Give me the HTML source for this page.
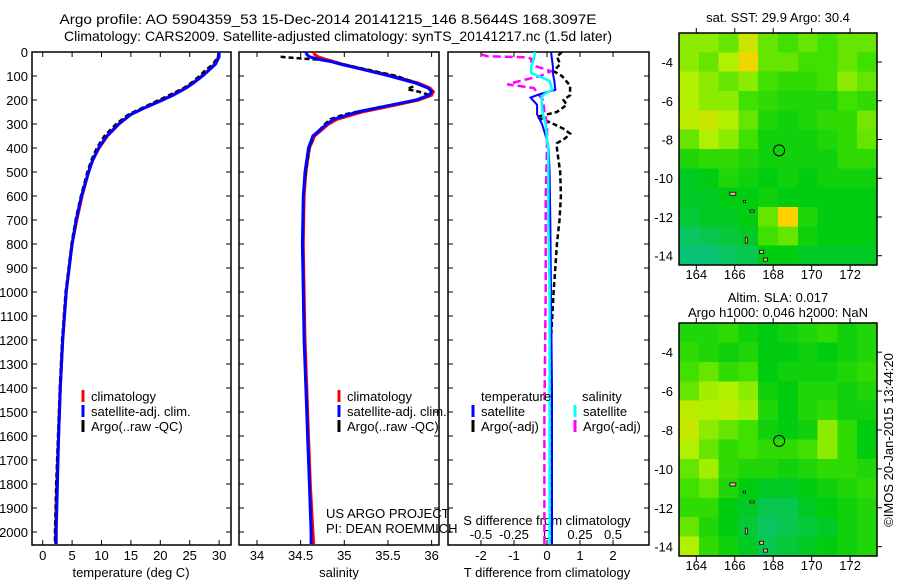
<!DOCTYPE html>
<html><head><meta charset="utf-8"><style>
body{margin:0;background:#fff}
svg text{font-family:"Liberation Sans",sans-serif;font-size:13px;fill:#000}
</style></head><body>
<svg id="fig" width="900" height="580" viewBox="0 0 900 580" xmlns="http://www.w3.org/2000/svg">
<rect width="900" height="580" fill="#fff"/>
<text x="328" y="24" text-anchor="middle" textLength="537" lengthAdjust="spacingAndGlyphs" style="font-size:14px">Argo profile: AO 5904359_53 15-Dec-2014 20141215_146 8.5644S 168.3097E</text>
<text x="338" y="41" text-anchor="middle" textLength="548" lengthAdjust="spacingAndGlyphs" style="font-size:14px">Climatology: CARS2009. Satellite-adjusted climatology: synTS_20141217.nc (1.5d later)</text>
<g id="g"></g>
</svg>
<script>
// ---------- data ----------
const depthTicks=[0,100,200,300,400,500,600,700,800,900,1000,1100,1200,1300,1400,1500,1600,1700,1800,1900,2000];
const tempTicks=[0,5,10,15,20,25,30];
const salTicks=[34,34.5,35,35.5,36];
const salTickLabels=["34","34.5","35","35.5","36"];
const tdiffTicks=[-2,-1,0,1,2];
const sdiffTicks=[-0.5,-0.25,0,0.25,0.5];
const sdiffTickLabels=["-0.5","-0.25","0","0.25","0.5"];

const depthT=[0,20,50,80,100,130,150,180,200,230,260,300,350,400,450,500,600,700,800,1000,1200,1400,1600,1800,2000,2050];
const tempClim=[29.9,29.9,29.3,28.0,27.0,25.5,24.3,22.0,20.2,17.5,15.0,13.0,11.0,9.6,8.5,7.8,6.7,5.8,5.0,4.0,3.4,3.0,2.7,2.4,2.2,2.2];
const tempSat=[30.0,30.0,29.4,28.1,27.2,25.6,24.4,22.2,20.4,17.6,15.0,12.9,10.9,9.5,8.5,7.8,6.6,5.7,5.0,4.0,3.4,3.0,2.7,2.5,2.3,2.3];
const tempArgo=[30.0,29.8,29.0,27.5,26.7,25.2,24.0,21.5,19.8,17.2,14.6,12.5,10.5,9.2,8.3,7.6,6.5,5.6,4.9,3.9,3.3,2.9,2.6,2.3,2.1,2.1];

const depthS=[0,10,20,30,40,50,70,100,130,150,165,180,200,220,250,280,300,350,400,500,600,800,1000,1200,1400,1600,1800,2000,2050];
const salClim=[34.65,34.66,34.7,34.78,34.88,34.97,35.2,35.55,35.85,35.98,36.02,36.0,35.85,35.6,35.2,34.92,34.82,34.66,34.6,34.56,34.54,34.53,34.54,34.55,34.57,34.59,34.61,34.64,34.65];
const salSat=[34.56,34.57,34.6,34.7,34.85,34.95,35.18,35.52,35.82,35.96,36.0,35.97,35.82,35.55,35.15,34.88,34.8,34.64,34.59,34.55,34.53,34.52,34.53,34.54,34.56,34.58,34.6,34.62,34.62];
const depthSA=[20,24,28,32,40,50,70,100,130,145,155,165,180,200,230,260,280,300,350,400,500,600,800,1000,1200,1400,1600,1800,2000];
const salArgo=[34.27,34.4,34.55,34.7,34.86,34.97,35.22,35.6,35.83,35.78,35.72,35.85,35.98,35.83,35.4,35.0,34.84,34.78,34.65,34.6,34.56,34.53,34.52,34.53,34.54,34.56,34.58,34.6,34.62];

const depthD=[0,30,60,88,120,158,175,190,220,260,300,367,400,500,700,1000,1400,1800,2050];
const tdiffSat=[0.12,0.15,0.18,0.18,0.22,0.25,-0.2,-0.5,-0.3,-0.3,-0.15,0.0,0.05,0.08,0.1,0.12,0.15,0.15,0.15];
const sdiffSat=[-0.09,-0.1,-0.12,-0.12,0.02,0.04,-0.02,-0.04,-0.04,-0.03,-0.01,0.0,0.01,0.01,0.01,0.02,0.02,0.02,0.02];
const depthTA=[0,20,50,80,100,140,180,200,220,250,270,300,320,340,360,380,400,450,500,600,700,800,900,1000,1200,1400,1600,1800,2050];
const tdiffArgo=[0.45,0.3,0.4,0.2,0.45,0.7,0.7,0.5,0.6,0.3,-0.3,0.2,0.5,0.7,0.55,0.3,0.3,0.35,0.4,0.42,0.38,0.3,0.25,0.2,0.12,0.1,0.12,0.1,0.1];
const depthSAd=[10,18,22,28,40,60,80,100,120,135,150,180,200,250,300,400,600,1000,1500,2050];
const sdiffArgo=[-0.5,-0.45,-0.15,-0.12,-0.12,-0.08,0.03,-0.05,-0.2,-0.3,-0.1,-0.06,-0.03,-0.02,0.0,0.0,-0.01,-0.01,-0.02,-0.02];

const sstGrid=[
[0.65,0.65,0.6,0.75,0.6,0.55,0.6,0.55,0.6,0.6],
[0.65,0.6,0.7,0.82,0.6,0.6,0.55,0.55,0.6,0.55],
[0.7,0.65,0.6,0.65,0.55,0.5,0.5,0.55,0.65,0.6],
[0.7,0.65,0.65,0.55,0.5,0.45,0.45,0.45,0.55,0.5],
[0.72,0.75,0.7,0.6,0.45,0.4,0.45,0.5,0.5,0.62],
[0.6,0.7,0.65,0.55,0.4,0.4,0.4,0.45,0.5,0.6],
[0.45,0.5,0.5,0.45,0.4,0.4,0.4,0.4,0.5,0.5],
[0.3,0.35,0.45,0.4,0.35,0.4,0.35,0.4,0.4,0.4],
[0.3,0.3,0.35,0.35,0.4,0.35,0.35,0.35,0.35,0.35],
[0.25,0.3,0.3,0.35,0.6,0.85,0.45,0.35,0.35,0.35],
[0.15,0.2,0.25,0.3,0.55,0.6,0.4,0.35,0.35,0.35],
[0.1,0.1,0.15,0.2,0.35,0.35,0.3,0.3,0.3,0.3]];
const slaGrid=[
[0.45,0.45,0.5,0.4,0.35,0.4,0.45,0.5,0.4,0.45],
[0.5,0.45,0.4,0.45,0.35,0.35,0.4,0.35,0.4,0.45],
[0.55,0.6,0.5,0.55,0.35,0.4,0.4,0.4,0.45,0.5],
[0.6,0.68,0.7,0.65,0.4,0.35,0.45,0.45,0.4,0.45],
[0.72,0.7,0.72,0.68,0.45,0.35,0.45,0.5,0.4,0.4],
[0.74,0.65,0.6,0.55,0.4,0.35,0.4,0.65,0.5,0.35],
[0.7,0.6,0.5,0.55,0.5,0.5,0.55,0.65,0.5,0.35],
[0.6,0.68,0.5,0.45,0.45,0.4,0.45,0.5,0.5,0.45],
[0.55,0.6,0.45,0.35,0.3,0.3,0.35,0.4,0.45,0.5],
[0.5,0.5,0.35,0.3,0.2,0.2,0.3,0.35,0.4,0.45],
[0.6,0.45,0.35,0.25,0.15,0.2,0.25,0.3,0.4,0.45],
[0.7,0.5,0.4,0.3,0.2,0.25,0.3,0.35,0.4,0.45]];
const lonTicks=[164,166,168,170,172];
const latTicks=[-4,-6,-8,-10,-12,-14];
const argoLon=168.31, argoLat=-8.56;

// ---------- helpers ----------
const NS="http://www.w3.org/2000/svg";
const G=document.getElementById('g');
function mk(tag,attrs,txt){const e=document.createElementNS(NS,tag);for(const k in attrs)e.setAttribute(k,attrs[k]);if(txt!==undefined)e.textContent=txt;G.appendChild(e);return e;}
const PT=52,PB=545;
const yD=d=>PT+d*0.24;
const panels=[{x0:32,x1:231},{x0:239,x1:439},{x0:448,x1:649}];
const xT=v=>42.7+v*5.88;
const xS=v=>257+(v-34)*87.3;
const xTd=v=>547+v*33;
const xSd=v=>547+v*132;

function frame(p,name){
  const r=mk('rect',{x:p.x0,y:PT,width:p.x1-p.x0,height:PB-PT,fill:'none',stroke:'#000','stroke-width':1.5});
  
  
}
function line(xs,ds,fx,color,w,dash,name){
  const pts=xs.map((v,i)=>fx(v).toFixed(1)+','+yD(ds[i]).toFixed(1)).join(' ');
  const a={points:pts,fill:'none',stroke:color,'stroke-width':w};
  if(dash)a['stroke-dasharray']=dash;
  const e=mk('polyline',a);
  
  
}
function txt(x,y,s,name,anchor,extra){
  const a={x:x,y:y};if(anchor)a['text-anchor']=anchor;
  if(extra)for(const k in extra)a[k]=extra[k];
  const e=mk('text',a,s);
  
  
  return e;
}
function tick(x1,y1,x2,y2){const e=mk('line',{x1:x1,y1:y1,x2:x2,y2:y2,stroke:'#000','stroke-width':1});
  
  }

frame(panels[0],'temperature-panel');frame(panels[1],'salinity-panel');frame(panels[2],'difference-panel');

depthTicks.forEach(d=>{
  txt(28,yD(d)+5,String(d),'depth-tick-label','end');
  panels.forEach(p=>{tick(p.x0,yD(d),p.x0+5,yD(d));tick(p.x1,yD(d),p.x1-5,yD(d));});
});
tempTicks.forEach(v=>{tick(xT(v),PB,xT(v),PB-5);tick(xT(v),PT,xT(v),PT+5);txt(xT(v),560,String(v),'temp-tick-label','middle');});
txt(131,577,'temperature (deg C)','temp-axis-title','middle');
salTicks.forEach((v,i)=>{tick(xS(v),PB,xS(v),PB-5);tick(xS(v),PT,xS(v),PT+5);txt(xS(v),560,salTickLabels[i],'sal-tick-label','middle');});
txt(339,577,'salinity','sal-axis-title','middle');
tdiffTicks.forEach(v=>{tick(xTd(v),PB,xTd(v),PB-5);txt(xTd(v),560,String(v),'tdiff-tick-label','middle');});
txt(547,577,'T difference from climatology','tdiff-axis-title','middle');
sdiffTicks.forEach((v,i)=>{tick(xSd(v),PT,xSd(v),PT+5);txt(xSd(v),539,sdiffTickLabels[i],'sdiff-tick-label','middle');});
txt(547,525,'S difference from climatology','sdiff-axis-title','middle');

line(tempClim,depthT,xT,'#f00',3,null,'temp-climatology-line');
line(tempArgo,depthT,xT,'#000',2.5,'5,3','temp-argo-line');
line(tempSat,depthT,xT,'#00f',3,null,'temp-satellite-line');
line(salClim,depthS,xS,'#f00',3,null,'sal-climatology-line');
line(salArgo,depthSA,xS,'#000',2.5,'5,3','sal-argo-line');
line(salSat,depthS,xS,'#00f',3,null,'sal-satellite-line');
line(tdiffArgo,depthTA,xTd,'#000',2.5,'5,3','tdiff-argo-line');
line(sdiffArgo,depthSAd,xSd,'#f0f',2.5,'8,4','sdiff-argo-line');
line(tdiffSat,depthD,xTd,'#00f',2,null,'tdiff-satellite-line');
line(sdiffSat,depthD,xSd,'#0ff',2.5,null,'sdiff-satellite-line');

function leg(mx,y,color,label,name){
  const e=mk('line',{x1:mx,y1:y-7,x2:mx,y2:y+5,stroke:color,'stroke-width':3});
  
  
  txt(mx+8,y+4,label,name);
}
[83,339].forEach(m=>{
  leg(m,397,'#f00','climatology','legend-climatology');
  leg(m,412,'#00f','satellite-adj. clim.','legend-satellite-adj');
  leg(m,427,'#000','Argo(..raw -QC)','legend-argo');
});
txt(481,401,'temperature','legend-temperature-header');
txt(582,401,'salinity','legend-salinity-header');
leg(473,412,'#00f','satellite','legend-t-satellite');
leg(473,427,'#000','Argo(-adj)','legend-t-argo');
leg(575,412,'#0ff','satellite','legend-s-satellite');
leg(575,427,'#f0f','Argo(-adj)','legend-s-argo');
txt(326,518,'US ARGO PROJECT','credit-project');
txt(326,533,'PI: DEAN ROEMMICH','credit-pi');

const stops=[[0,[16,192,160]],[0.35,[0,204,16]],[0.55,[64,224,0]],[0.7,[176,240,0]],[0.85,[255,208,0]],[1,[255,96,0]]];
function cmap(v){for(let i=1;i<stops.length;i++){if(v<=stops[i][0]){const a=stops[i-1],b=stops[i],t=(v-a[0])/(b[0]-a[0]);
  return 'rgb('+a[1].map((c,k)=>Math.round(c+(b[1][k]-c)*t)).join(',')+')';}}return 'rgb(255,96,0)';}
function map(grid,top,bot,name){
  const L=679,R=877,lonL=163.1,lonR=173.4,latT=-2.5,latB=-14.48;
  const fx=lon=>L+(lon-lonL)/(lonR-lonL)*(R-L);
  const fy=lat=>top+(latT-lat)/(latT-latB)*(bot-top);
  const nr=grid.length,nc=grid[0].length,cw=(R-L)/nc,ch=(bot-top)/nr;
  grid.forEach((row,r)=>row.forEach((v,c)=>{
    const e=mk('rect',{x:L+c*cw,y:top+r*ch,width:cw+0.5,height:ch+0.5,fill:cmap(v),'shape-rendering':'crispEdges'});
    
    
  }));
  const f=mk('rect',{x:L,y:top,width:R-L,height:bot-top,fill:'none',stroke:'#000','stroke-width':1.5});
  
  
  lonTicks.forEach(v=>{tick(fx(v),bot,fx(v),bot+5);tick(fx(v),top,fx(v),top-5);txt(fx(v),bot+14,String(v),name+'-lon-label','middle');});
  latTicks.forEach(v=>{tick(R,fy(v),R+5,fy(v));txt(673,fy(v)+5,String(v),name+'-lat-label','end');});
  const c=mk('circle',{cx:fx(argoLon),cy:fy(argoLat),r:5.5,fill:'none',stroke:'#000','stroke-width':1});
  
  
  [[165.9,-10.8,6,3],[166.9,-11.7,4,2],[167.4,-13.8,4,3],[167.6,-14.2,4,3],[166.6,-13.2,2,6],[166.5,-11.2,2,2]].forEach(p=>{
    const s=mk('rect',{x:fx(p[0])-p[2]/2,y:fy(p[1])-p[3]/2,width:p[2],height:p[3],fill:'#f0c0a0',stroke:'#000','stroke-width':0.8});
    
    
  });
}
map(sstGrid,33,265,'sst-map');
txt(778,22,'sat. SST: 29.9 Argo: 30.4','sst-map-title','middle');
map(slaGrid,323,556,'sla-map');
txt(778,302,'Altim. SLA: 0.017','sla-map-title','middle');
txt(778,317,'Argo h1000: 0.046 h2000: NaN','sla-map-subtitle','middle');
txt(893,440,'©IMOS 20-Jan-2015 13:44:20','imos-timestamp','middle',{transform:'rotate(-90 893 440)'});
</script>
</body></html>
